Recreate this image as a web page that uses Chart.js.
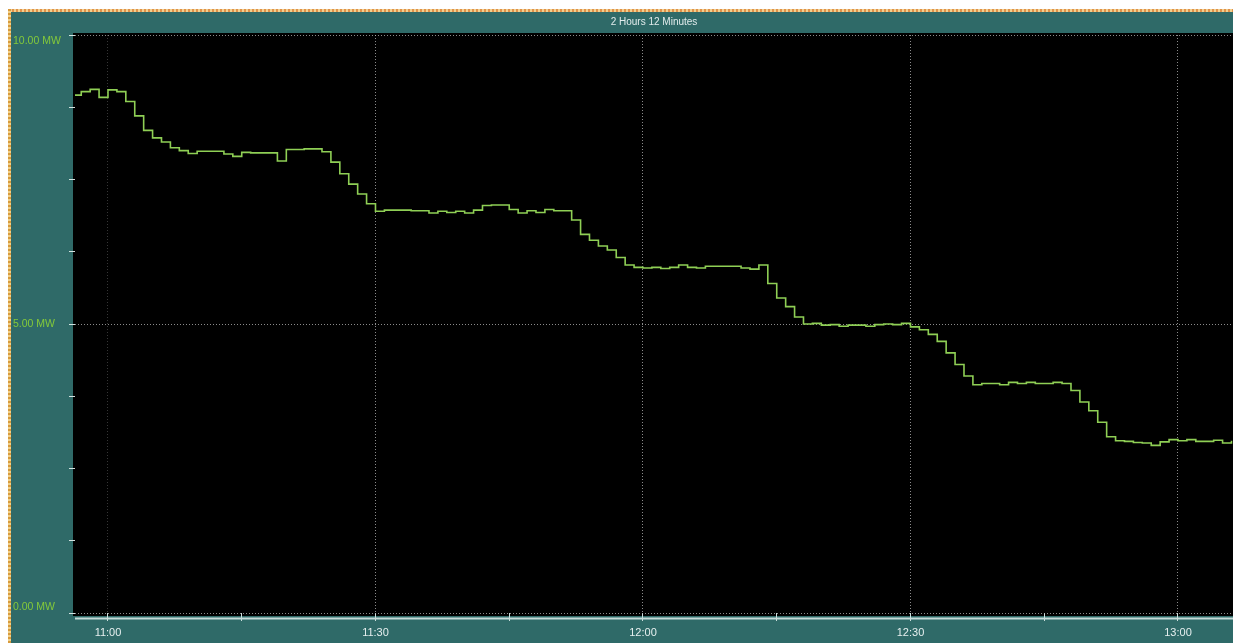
<!DOCTYPE html>
<html>
<head>
<meta charset="utf-8">
<script src="https://cdn.jsdelivr.net/npm/chart.js@4.4.1/dist/chart.umd.min.js"></script>
<style>
html,body{margin:0;padding:0;background:#fff;width:1233px;height:643px;overflow:hidden}
#topStrip{position:absolute;left:8px;top:9px;right:0;height:3px;background:repeating-linear-gradient(90deg,#e0924a 0 2px,#f2cf8e 2px 4px)}
#leftStrip{position:absolute;left:8px;top:9px;width:3px;bottom:0;background:repeating-linear-gradient(0deg,#d89a3c 0 2px,#f0d08a 2px 4px)}
#panel{position:absolute;left:11px;top:12px;right:0;bottom:0;background:#2f6a68}
#c{position:absolute;left:0;top:0}
</style>
</head>
<body>
<div id="topStrip"></div>
<div id="leftStrip"></div>
<div id="panel"></div>
<canvas id="c" width="1233" height="643"></canvas>
<script>
// Sample times, minutes after 11:00
const minutes = [-4,-3,-2,-1,0,1,2,3,4,5,6,7,8,9,10,11,12,13,14,15,16,17,18,19,20,21,22,23,24,25,26,27,28,29,30,31,32,33,34,35,36,37,38,39,40,41,42,43,44,45,46,47,48,49,50,51,52,53,54,55,56,57,58,59,60,61,62,63,64,65,66,67,68,69,70,71,72,73,74,75,76,77,78,79,80,81,82,83,84,85,86,87,88,89,90,91,92,93,94,95,96,97,98,99,100,101,102,103,104,105,106,107,108,109,110,111,112,113,114,115,116,117,118,119,120,121,122,123,124,125,126];
// Power (MW)
const powerMW = [8.96,9.02,9.06,8.92,9.05,9.02,8.85,8.6,8.35,8.22,8.15,8.05,8.0,7.95,7.99,7.99,7.99,7.94,7.9,7.97,7.96,7.96,7.96,7.82,8.02,8.02,8.03,8.03,7.98,7.8,7.6,7.42,7.25,7.08,6.95,6.97,6.97,6.97,6.96,6.96,6.92,6.95,6.93,6.95,6.92,6.97,7.05,7.06,7.06,6.98,6.92,6.96,6.93,6.98,6.96,6.96,6.8,6.55,6.45,6.35,6.28,6.15,6.02,5.98,5.97,5.98,5.96,5.98,6.02,5.98,5.97,6.0,6.0,6.0,6.0,5.97,5.95,6.02,5.7,5.45,5.3,5.12,5.0,5.01,4.98,4.99,4.96,4.98,4.98,4.96,4.99,5.0,4.99,5.01,4.95,4.9,4.82,4.7,4.5,4.3,4.1,3.95,3.97,3.97,3.95,3.99,3.97,3.99,3.97,3.97,3.99,3.97,3.85,3.65,3.5,3.3,3.05,2.98,2.97,2.95,2.94,2.9,2.96,3.0,2.98,3.0,2.97,2.97,2.99,2.94,2.98];
// X ticks (minutes after 11:00); labelled every 30 min
const xTickValues = [0, 15, 30, 45, 60, 75, 90, 105, 120];
const xLabelValues = [0, 30, 60, 90, 120];
// Y ticks (MW); labelled at 0, 5, 10
const yTickValues = [0, 1.25, 2.5, 3.75, 5, 6.25, 7.5, 8.75, 10];
const yLabelValues = [0, 5, 10];
const titleText = '2 Hours 12 Minutes';

const plotBg = {
  id: 'plotBg',
  beforeDraw(chart) {
    const a = chart.chartArea, ctx = chart.ctx;
    ctx.save();
    ctx.fillStyle = '#000';
    ctx.fillRect(a.left - 2, a.top - 2, a.right - a.left + 2, a.bottom - a.top + 5);
    ctx.restore();
  },
  afterDraw(chart) {
    const a = chart.chartArea, ctx = chart.ctx;
    ctx.save();
    ctx.strokeStyle = '#c3d9d7';
    ctx.lineWidth = 2;
    ctx.beginPath();
    ctx.moveTo(a.left, a.bottom + 5.5);
    ctx.lineTo(a.right, a.bottom + 5.5);
    ctx.stroke();
    ctx.restore();
  }
};

const gridCol = 'rgba(185,185,185,0.75)';

new Chart(document.getElementById('c'), {
  type: 'line',
  data: {
    datasets: [{
      data: minutes.map((m, i) => ({x: m, y: powerMW[i]})),
      borderColor: '#8fcf55',
      borderWidth: 1.6,
      pointRadius: 0,
      stepped: true,
      fill: false
    }]
  },
  options: {
    responsive: false,
    animation: false,
    layout: {padding: {top: 12, left: 13, right: 0, bottom: 0}},
    plugins: {
      legend: {display: false},
      tooltip: {enabled: false},
      title: {
        display: true,
        text: titleText,
        fullSize: false,
        color: '#e2ecec',
        font: {family: 'Liberation Sans', size: 10, weight: 'normal'},
        padding: {top: 4, bottom: 7}
      }
    },
    scales: {
      x: {
        type: 'linear',
        min: -3.7,
        max: 126.17,
        afterFit(s) { s.height = 30; },
        afterBuildTicks(s) { s.ticks = xTickValues.map(v => ({value: v})); },
        border: {display: false, dash: [1, 2]},
        grid: {
          drawOnChartArea: true,
          color: c => {
            if (!c.tick || !xLabelValues.includes(c.tick.value)) return 'rgba(0,0,0,0)';
            return c.tick.value === 0 ? 'rgba(120,120,120,0.45)' : gridCol;
          },
          tickColor: '#c9dddb',
          tickLength: 8,
          tickBorderDash: [],
          lineWidth: 1
        },
        ticks: {
          padding: 5,
          maxRotation: 0,
          autoSkip: false,
          color: '#e6efef',
          font: {family: 'Liberation Sans', size: 11},
          callback: v => {
            if (!xLabelValues.includes(v)) return '';
            const total = 11 * 60 + v;
            const h = Math.floor(total / 60), m = total % 60;
            return h + ':' + String(m).padStart(2, '0');
          }
        }
      },
      y: {
        min: 0,
        max: 10,
        afterFit(s) { s.width = 62; },
        afterBuildTicks(s) { s.ticks = yTickValues.map(v => ({value: v})); },
        border: {display: false, dash: [1, 2]},
        grid: {
          color: c => (c.tick && yLabelValues.includes(c.tick.value)) ? gridCol : 'rgba(0,0,0,0)',
          tickColor: '#d3e3e1',
          tickLength: 6,
          tickBorderDash: [],
          lineWidth: 1
        },
        ticks: {
          crossAlign: 'far',
          padding: 4,
          autoSkip: false,
          color: '#84c93a',
          font: {family: 'Liberation Sans', size: 10.5},
          callback: v => {
            if (!yLabelValues.includes(v)) return '';
            const s = v.toFixed(2) + ' MW';
            if (v === 10) return ['', s];
            if (v === 0) return [s, ''];
            return s;
          }
        }
      }
    }
  },
  plugins: [plotBg]
});
</script>
</body>
</html>
